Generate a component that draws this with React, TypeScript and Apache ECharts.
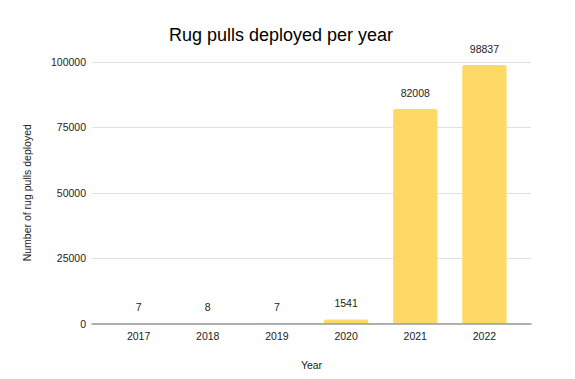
import React, { useEffect, useRef } from "react";
import * as echarts from "echarts";

const years = ["2017", "2018", "2019", "2020", "2021", "2022"];
const rugPulls = [7, 8, 7, 1541, 82008, 98837];
const yMax = 100000;
const yInterval = 25000;

export default function App() {
  const ref = useRef<HTMLDivElement>(null);
  useEffect(() => {
    if (!ref.current) return;
    const chart = echarts.init(ref.current, undefined, { renderer: "svg" });
    const font = "Liberation Sans, Arial, sans-serif";
    chart.setOption({
      animation: false,
      backgroundColor: "#ffffff",
      textStyle: { fontFamily: font },
      title: {
        text: "Rug pulls deployed per year",
        left: 276,
        top: 21,
        textAlign: "center",
        textStyle: { fontFamily: font, fontSize: 18, fontWeight: "normal", color: "#000000" },
      },
      grid: [
        { left: 92, right: 44, top: 62, bottom: 55.5 },
        { left: 104, right: 56, top: 62, bottom: 55.5 },
      ],
      xAxis: [
        {
          gridIndex: 0,
          type: "value",
          min: 0,
          max: 1,
          z: 10,
          axisLine: { show: true, onZero: false, lineStyle: { color: "#9a9a9a", width: 1.5 } },
          axisTick: { show: false },
          axisLabel: { show: false },
          splitLine: { show: false },
        },
        {
          gridIndex: 1,
          type: "category",
          data: years,
          axisLine: { show: false },
          axisTick: { show: false },
          axisLabel: { fontSize: 10.5, color: "#222222", margin: 7, fontFamily: font },
          name: "Year",
          nameLocation: "middle",
          nameGap: 36,
          nameTextStyle: { fontSize: 10.5, color: "#222222", fontFamily: font },
        },
      ],
      yAxis: [
        {
          gridIndex: 0,
          type: "value",
          min: 0,
          max: yMax,
          interval: yInterval,
          axisLine: { show: false },
          axisTick: { show: false },
          axisLabel: {
            fontSize: 10.5,
            color: "#222222",
            margin: 6,
            fontFamily: font,
            formatter: (v: number) => String(v),
          },
          splitLine: { show: true, lineStyle: { color: "#e0e0e0", width: 1 } },
          name: "Number of rug pulls deployed",
          nameLocation: "middle",
          nameGap: 60,
          nameTextStyle: { fontSize: 10.5, color: "#222222", fontFamily: font },
        },
        {
          gridIndex: 1,
          type: "value",
          min: 0,
          max: yMax,
          interval: yInterval,
          show: false,
          splitLine: { show: false },
        },
      ],
      series: [
        {
          type: "bar",
          xAxisIndex: 1,
          yAxisIndex: 1,
          data: rugPulls,
          barWidth: "64%",
          itemStyle: { color: "#ffd966", borderRadius: [2, 2, 0, 0] },
          label: {
            show: true,
            position: "top",
            distance: 11,
            fontSize: 10.5,
            color: "#222222",
            fontFamily: font,
          },
        },
      ],
    });
    return () => chart.dispose();
  }, []);
  return (
    <div
      ref={ref}
      style={{ position: "fixed", left: 0, top: 0, width: 575, height: 379 }}
    />
  );
}
